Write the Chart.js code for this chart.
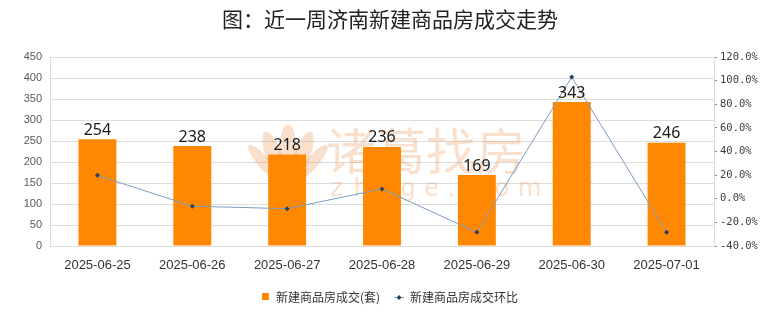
<!DOCTYPE html>
<html>
<head>
<meta charset="utf-8">
<script src="https://cdn.jsdelivr.net/npm/chart.js@4.4.1/dist/chart.umd.min.js"></script>
<style>
  html, body { margin: 0; padding: 0; background: #ffffff; }
  #wrap { width: 780px; height: 328px; }
</style>
</head>
<body>
<div id="wrap"><canvas id="c" width="780" height="328"></canvas></div>
<script>
// 济南新建商品房：日成交套数 + 环比
const dates = ["2025-06-25", "2025-06-26", "2025-06-27", "2025-06-28", "2025-06-29", "2025-06-30", "2025-07-01"];
const deals = [254, 238, 218, 236, 169, 343, 246];
const momPct = [19.8, -6.3, -8.4, 8.3, -28.4, 103.0, -28.3];

const TITLE = "图：近一周济南新建商品房成交走势";
const BAR_COLOR = "#ff8800";
const LINE_COLOR = "#7b9cc2";
const MARK_COLOR = "#2b3f5c";
const GRID_COLOR = "#dcdcdc";
const CJK = "'Noto Sans CJK SC', 'Noto Sans', sans-serif";

// 标题 + 底部图例
const titleLegendPlugin = {
  id: "titleLegend",
  afterDraw(chart) {
    const ctx = chart.ctx;
    ctx.save();
    ctx.fillStyle = "#222";
    ctx.font = "21px " + CJK;
    ctx.textAlign = "center";
    ctx.textBaseline = "middle";
    ctx.fillText(TITLE, chart.width / 2, 19);

    ctx.font = "12px " + CJK;
    ctx.textAlign = "left";
    const ds = chart.data.datasets;
    const w0 = ctx.measureText(ds[0].label).width;
    const w1 = ctx.measureText(ds[1].label).width;
    const total = 8 + 6 + w0 + 14 + 10 + 6 + w1;
    let x = chart.width / 2 - total / 2;
    const y = 297;
    ctx.fillStyle = BAR_COLOR;
    ctx.fillRect(x, y - 4, 7, 7);
    x += 14;
    ctx.fillStyle = "#333";
    ctx.fillText(ds[0].label, x, y);
    x += w0 + 14;
    ctx.strokeStyle = LINE_COLOR;
    ctx.lineWidth = 1;
    ctx.beginPath();
    ctx.moveTo(x, y + 0.5);
    ctx.lineTo(x + 10, y + 0.5);
    ctx.stroke();
    ctx.fillStyle = MARK_COLOR;
    ctx.beginPath();
    ctx.moveTo(x + 5, y - 2);
    ctx.lineTo(x + 7.5, y + 0.5);
    ctx.lineTo(x + 5, y + 3);
    ctx.lineTo(x + 2.5, y + 0.5);
    ctx.closePath();
    ctx.fill();
    x += 16;
    ctx.fillStyle = "#333";
    ctx.fillText(ds[1].label, x, y);
    ctx.restore();
  },
};

// 水印（诸葛找房）画在图形下面
const watermarkPlugin = {
  id: "watermark",
  beforeDatasetsDraw(chart) {
    const ctx = chart.ctx;
    ctx.save();
    ctx.fillStyle = "rgba(236,160,100,0.32)";
    // 莲花形 logo
    const cx = 288, cy = 158;
    const petals = [
      [0, -6, 9, 28, 0],
      [-14, -2, 8, 26, -0.35],
      [14, -2, 8, 26, 0.35],
      [-25, 4, 6, 22, -0.7],
      [25, 4, 6, 22, 0.7],
    ];
    petals.forEach(([dx, dy, rx, ry, rot]) => {
      ctx.beginPath();
      ctx.ellipse(cx + dx, cy + dy, rx, ry, rot, 0, Math.PI * 2);
      ctx.fill();
    });
    ctx.font = "50px " + CJK;
    ctx.textBaseline = "middle";
    ctx.textAlign = "left";
    ctx.fillText("诸葛找房", 326, 151);
    ctx.font = "24px 'DejaVu Sans', sans-serif";
    const letters = "zhuge.com".split("");
    letters.forEach((ch, i) => {
      ctx.fillText(ch, 330 + i * 23.5, 190);
    });
    ctx.restore();
  },
};

// 柱顶数值
const barLabelPlugin = {
  id: "barLabel",
  afterDatasetsDraw(chart) {
    const ctx = chart.ctx;
    const meta = chart.getDatasetMeta(0);
    ctx.save();
    ctx.fillStyle = "#1a1a1a";
    ctx.font = "16px 'Noto Sans', sans-serif";
    ctx.textAlign = "center";
    ctx.textBaseline = "bottom";
    meta.data.forEach((bar, i) => {
      ctx.fillText(String(deals[i]), bar.x, bar.y - 1);
    });
    ctx.restore();
  },
};

new Chart(document.getElementById("c"), {
  data: {
    labels: dates,
    datasets: [
      {
        type: "bar",
        label: "新建商品房成交(套)",
        data: deals,
        backgroundColor: BAR_COLOR,
        barPercentage: 0.4,
        categoryPercentage: 1,
        yAxisID: "y",
        order: 2,
      },
      {
        type: "line",
        label: "新建商品房成交环比",
        data: momPct,
        borderColor: LINE_COLOR,
        borderWidth: 1,
        tension: 0,
        pointStyle: "rectRot",
        pointRadius: 2.5,
        pointBackgroundColor: MARK_COLOR,
        pointBorderColor: MARK_COLOR,
        pointBorderWidth: 0,
        yAxisID: "y1",
        order: 1,
      },
    ],
  },
  plugins: [watermarkPlugin, barLabelPlugin, titleLegendPlugin],
  options: {
    responsive: false,
    animation: false,
    layout: { padding: { top: 57, bottom: 52, left: 0, right: 0 } },
    plugins: {
      legend: { display: false },
      title: { display: false },
      tooltip: { enabled: false },
    },
    scales: {
      x: {
        grid: { display: false },
        border: { color: GRID_COLOR },
        ticks: {
          color: "#333",
          font: { family: "'Liberation Sans', Arial, sans-serif", size: 13 },
          padding: 4,
          maxRotation: 0,
        },
        afterFit(s) { s.height = 30; },
      },
      y: {
        position: "left",
        min: 0,
        max: 450,
        ticks: {
          stepSize: 50,
          color: "#595959",
          font: { family: "'Liberation Sans', Arial, sans-serif", size: 11 },
          padding: 8,
        },
        grid: { color: GRID_COLOR, drawTicks: false },
        border: { color: GRID_COLOR },
        afterFit(s) { s.width = 50; },
      },
      y1: {
        position: "right",
        min: -40,
        max: 120,
        ticks: {
          stepSize: 10,
          color: "#404040",
          font: { family: "'DejaVu Sans Mono', monospace", size: 10.5 },
          padding: 3,
          callback: (v) => ((v + 40) % 20 === 0 ? v.toFixed(1) + "%" : ""),
        },
        grid: { drawOnChartArea: false, color: "#8c8c8c", tickLength: 3 },
        border: { color: GRID_COLOR },
        afterFit(s) { s.width = 66; },
      },
    },
  },
});
</script>
</body>
</html>
